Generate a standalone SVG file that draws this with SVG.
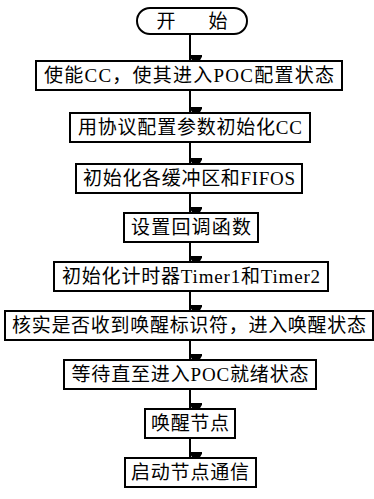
<svg xmlns="http://www.w3.org/2000/svg" width="374" height="499" viewBox="0 0 374 499">
<style>
.b{fill:#fff;stroke:#000;stroke-width:2}
.t{font-family:"Liberation Serif","Noto Sans CJK SC",serif;font-size:19px;fill:#000;text-anchor:middle}
.c{stroke:#000;stroke-width:2;fill:none;marker-end:url(#ah)}
</style>
<defs>
<marker id="ah" markerUnits="userSpaceOnUse" markerWidth="14" markerHeight="13" refX="7" refY="12" orient="auto-start-reverse" viewBox="0 0 14 13">
<path d="M0,0 L14,0 L7,12 Z" fill="#000" transform="rotate(-90 7 6)"/>
</marker>
</defs>
<rect width="374" height="499" fill="#fff"/>
<g id="connectors">
<line class="c" x1="190" y1="34" x2="190" y2="61"/>
<line class="c" x1="190" y1="90" x2="190" y2="113"/>
<line class="c" x1="190" y1="142" x2="190" y2="164"/>
<line class="c" x1="190" y1="193" x2="190" y2="213"/>
<line class="c" x1="190" y1="242" x2="190" y2="262"/>
<line class="c" x1="190" y1="291" x2="190" y2="311"/>
<line class="c" x1="190" y1="340" x2="190" y2="360"/>
<line class="c" x1="190" y1="389" x2="190" y2="409"/>
<line class="c" x1="190" y1="438" x2="190" y2="458"/>
</g>
<g id="start">
<rect class="b" x="137" y="8" width="110" height="26" rx="13"/>
<text class="t" x="166" y="28">开</text>
<text class="t" x="218" y="28">始</text>
</g>
<g id="n1">
<rect class="b" x="36" y="61" width="306" height="29"/>
<text class="t" x="189" y="82" textLength="290" lengthAdjust="spacing">使能CC，使其进入POC配置状态</text>
</g>
<g id="n2">
<rect class="b" x="70" y="113" width="240" height="29"/>
<text class="t" x="190" y="134" textLength="224" lengthAdjust="spacing">用协议配置参数初始化CC</text>
</g>
<g id="n3">
<rect class="b" x="76" y="164" width="226" height="29"/>
<text class="t" x="189" y="185" textLength="212" lengthAdjust="spacing">初始化各缓冲区和FIFOS</text>
</g>
<g id="n4">
<rect class="b" x="124" y="213" width="134" height="29"/>
<text class="t" x="191" y="234" textLength="120" lengthAdjust="spacing">设置回调函数</text>
</g>
<g id="n5">
<rect class="b" x="54" y="262" width="274" height="29"/>
<text class="t" x="191" y="283" textLength="258" lengthAdjust="spacing">初始化计时器Timer1和Timer2</text>
</g>
<g id="n6">
<rect class="b" x="5" y="311" width="368" height="29"/>
<text class="t" x="189" y="332" textLength="354" lengthAdjust="spacing">核实是否收到唤醒标识符，进入唤醒状态</text>
</g>
<g id="n7">
<rect class="b" x="64" y="360" width="252" height="29"/>
<text class="t" x="190" y="381" textLength="237" lengthAdjust="spacing">等待直至进入POC就绪状态</text>
</g>
<g id="n8">
<rect class="b" x="145" y="409" width="90" height="29"/>
<text class="t" x="190" y="430" textLength="78" lengthAdjust="spacing">唤醒节点</text>
</g>
<g id="n9">
<rect class="b" x="125" y="458" width="131" height="29"/>
<text class="t" x="190" y="479" textLength="118" lengthAdjust="spacing">启动节点通信</text>
</g>
</svg>
